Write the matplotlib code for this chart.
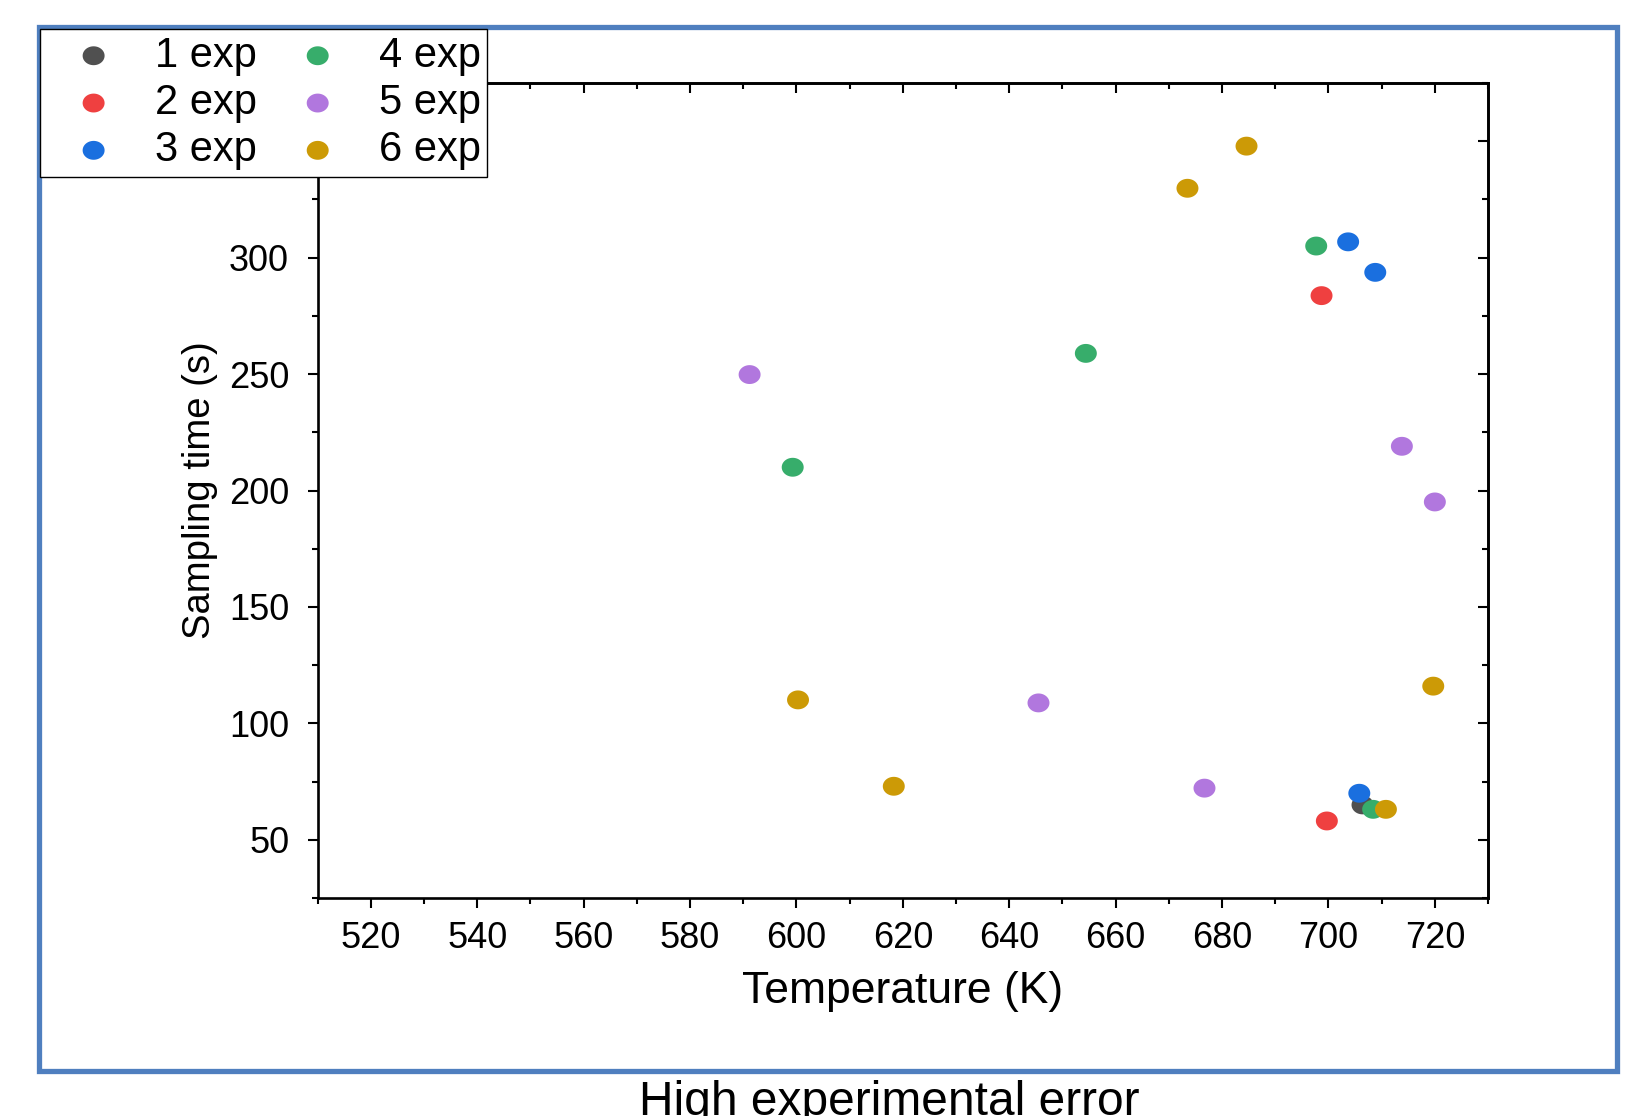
import numpy as np
import matplotlib
matplotlib.use('Agg')
import matplotlib.pyplot as plt
from matplotlib.path import Path
from matplotlib.patches import Rectangle
from matplotlib.ticker import MultipleLocator

plt.rcParams['font.family'] = ['Liberation Sans', 'DejaVu Sans']

# ---- data ----
series_labels = ['1 exp', '2 exp', '3 exp', '4 exp', '5 exp', '6 exp']
series_colors = ['#505050', '#ef4040', '#1a6fdf', '#37ad6b', '#b177de', '#cc9a06']

exp1_T = [706.4]
exp1_t = [65]
exp2_T = [698.7, 699.7]
exp2_t = [283.7, 58.1]
exp3_T = [703.7, 708.8, 705.8]
exp3_t = [306.8, 293.7, 70.0]
exp4_T = [697.7, 654.4, 599.3, 708.4]
exp4_t = [305.0, 258.9, 210.0, 63.1]
exp5_T = [591.2, 713.8, 720.0, 645.5, 676.7]
exp5_t = [249.8, 219.0, 195.1, 108.8, 72.2]
exp6_T = [684.6, 673.5, 719.7, 600.3, 618.3, 710.8]
exp6_t = [347.9, 329.8, 116.0, 110.1, 73.0, 63.1]

x_ticks = [520, 540, 560, 580, 600, 620, 640, 660, 680, 700, 720]
y_ticks = [50, 100, 150, 200, 250, 300, 350]

xs = [exp1_T, exp2_T, exp3_T, exp4_T, exp5_T, exp6_T]
ys = [exp1_t, exp2_t, exp3_t, exp4_t, exp5_t, exp6_t]

# ellipse marker (slightly wider than tall)
th = np.linspace(0, 2 * np.pi, 64)
ell = Path(np.column_stack([np.cos(th), 0.86 * np.sin(th)]), closed=True)

fig = plt.figure(figsize=(16.49, 11.16), dpi=100)
ax = fig.add_axes([0.1926, 0.1953, 0.7098, 0.7303])

handles = []
for X, Y, lab, col in zip(xs, ys, series_labels, series_colors):
    h = ax.scatter(X, Y, s=250, marker=ell, color=col, edgecolors='none',
                   label=lab, zorder=3)
    handles.append(h)

ax.set_xlim(510, 730)
ax.set_ylim(25, 375)
ax.set_xticks(x_ticks)
ax.set_yticks(y_ticks)
ax.xaxis.set_minor_locator(MultipleLocator(10))
ax.yaxis.set_minor_locator(MultipleLocator(25))

for sp in ax.spines.values():
    sp.set_linewidth(1.9)

ax.tick_params(which='major', direction='out', length=7.5, width=1.5,
               labelsize=26, pad=9, top=False, right=False)
ax.tick_params(which='minor', direction='out', length=4, width=1.5,
               top=False, right=False)
ax.tick_params(axis='y', which='major', pad=13)

# mirrored inward ticks on top and right
sx = ax.secondary_xaxis('top')
sx.set_xticks(x_ticks)
sx.xaxis.set_minor_locator(MultipleLocator(10))
sx.tick_params(which='major', direction='in', length=7.5, width=1.5, labeltop=False)
sx.tick_params(which='minor', direction='in', length=4, width=1.5)
sx.spines['top'].set_linewidth(1.9)
sy = ax.secondary_yaxis('right')
sy.set_yticks(y_ticks)
sy.yaxis.set_minor_locator(MultipleLocator(25))
sy.tick_params(which='major', direction='in', length=7.5, width=1.5, labelright=False)
sy.tick_params(which='minor', direction='in', length=4, width=1.5)
sy.spines['right'].set_linewidth(1.9)

ax.set_xlabel('Temperature (K)', fontsize=32)
ax.xaxis.set_label_coords(0.5, -0.090)
ax.set_ylabel('Sampling time (s)', fontsize=27.5)
ax.yaxis.set_label_coords(-0.085, 0.5)

leg = fig.legend(handles=handles, labels=series_labels, ncol=2,
                 loc='upper left', bbox_to_anchor=(0.0243, 0.974),
                 bbox_transform=fig.transFigure, borderaxespad=0,
                 fontsize=30, frameon=True, fancybox=False, framealpha=1,
                 edgecolor='black', handlelength=2.25, handletextpad=0.34,
                 columnspacing=0.34, borderpad=0.16, labelspacing=0.175,
                 scatterpoints=1)
leg.get_frame().set_linewidth(1.0)

# blue outer frame
fig.patches.append(Rectangle((39.4 / 1649, 1 - 1071 / 1116),
                             (1617.5 - 39.4) / 1649, (1071 - 26.8) / 1116,
                             transform=fig.transFigure, fill=False,
                             edgecolor='#4f7fbf', linewidth=3.8, zorder=0))

fig.text(0.539, 0.001, 'High experimental error', fontsize=34.5,
         ha='center', va='baseline')

fig.savefig('out.png', dpi=100)
